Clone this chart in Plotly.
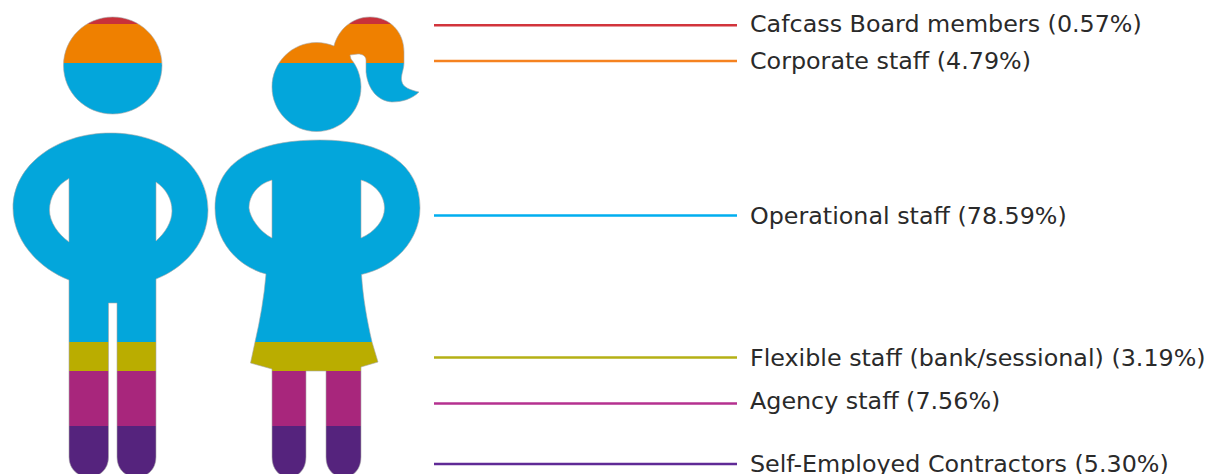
import numpy as np
import plotly.graph_objects as go

categories = [
    "Cafcass Board members",
    "Corporate staff",
    "Operational staff",
    "Flexible staff (bank/sessional)",
    "Agency staff",
    "Self-Employed Contractors",
]
shares = [0.57, 4.79, 78.59, 3.19, 7.56, 5.30]
# height of each colour band on the figures, as drawn (not to scale with the shares)
band_heights = [7, 39, 279, 29, 55, 54]

band_colors = ["#c8313a", "#ef8000", "#03a6db", "#baad00", "#a8267c", "#55237d"]
line_colors = ["#d2343c", "#f58220", "#00aeef", "#b5b015", "#b5308f", "#5f2a96"]
line_y = [25.3, 61, 215.5, 357.5, 403.5, 464]
label_y = [24, 60.5, 216, 357.5, 401, 464]

HEAD_TOP = 17

# outlines of the two figures, one closed piece per path part
man = (
    # head
    "M 63.5 65.5 C 63.5 38.5 85.5 17 112.7 17 C 140 17 162 38.5 162 65.5 "
    "C 162 92.5 140 114 112.7 114 C 85.5 114 63.5 92.5 63.5 65.5 Z "
    # body and legs
    "M 69 280 C 38 268 13 240 13 208 C 13 165 57 133 110.5 133 C 165 133 208 165 208 210 "
    "C 208 243 184 268 156 279 L 156 457 C 156 470 147 477 136.5 477 C 126 477 117 470 117 457 "
    "L 117 303 L 108.5 303 L 108.5 457 C 108.5 470 99 477 89 477 C 79 477 69 470 69 457 Z "
    # gaps under the arms
    "M 69 178.5 C 57 185 49.5 197 49.5 210 C 49.5 222 58 234 69 242 Z "
    "M 156 182 C 166 189 172 199 172 211 C 172 222 165 233 156 241 Z "
)
woman = (
    # head and ponytail
    "M 334 46 C 338 30 352 17 370 17 C 390 17 404 32 404 52 L 404 63 C 404 70 400 76 402 82 "
    "C 403 87 410 90 419 92 C 412 99 402 102 392 102 C 378 101 368 90 366 72 L 366 60 "
    "C 366 56 362 54 358 54 L 350 55 L 351 59 C 357 66 361 76 361 87 "
    "C 361 111.5 341 131.5 316.5 131.5 C 292 131.5 272 111.5 272 87 "
    "C 272 62.5 292 42.5 316.5 42.5 C 323 42.5 329 44 334 46 Z "
    # body, skirt and legs
    "M 266 274 C 236 266 215 240 215 208 C 215 165 250 140 320 140 C 385 140 420 165 420 208 "
    "C 420 240 395 267 361.5 274.5 C 363 298 367 320 372 342 L 378 362 L 361 367 L 361 457 "
    "C 361 470 353 477 343.5 477 C 334 477 326 470 326 457 L 326 371 L 306 371 L 306 457 "
    "C 306 470 298 477 289 477 C 280 477 272 470 272 457 L 272 369 L 250.5 363 L 255 342 "
    "C 260 320 264 298 266 274 Z "
    # gaps under the arms
    "M 272 180 C 258 184 249 195 249 208 C 250 218 260 232 272 238 Z "
    "M 361 180 C 375 184 384.5 195 384.5 208 C 384.5 220 375 232 361 238 Z "
)
outlines = man + woman
frame = "M -5 -5 L 428 -5 L 428 480 L -5 480 Z "

fig = go.Figure()

# colour bands, cut to the figures by the white mask further down
bases = HEAD_TOP + np.concatenate([[0], np.cumsum(band_heights)[:-1]])
for name, height, base, color in zip(categories, band_heights, bases, band_colors):
    fig.add_trace(go.Bar(
        x=[111, 317],
        y=[height, height],
        base=[base, base],
        width=[200, 208],
        marker=dict(color=color, line=dict(width=0)),
        name=name,
        showlegend=False,
    ))

# leader lines
for name, y, color in zip(categories, line_y, line_colors):
    fig.add_trace(go.Scatter(
        x=[434, 737],
        y=[y, y],
        mode="lines",
        line=dict(color=color, width=2.4),
        name=name,
        showlegend=False,
    ))

for name, share, y in zip(categories, shares, label_y):
    fig.add_annotation(
        x=750,
        y=y,
        text=f"{name} ({share:.2f}%)",
        showarrow=False,
        xanchor="left",
        yanchor="middle",
        xshift=-2,
        font=dict(family="DejaVu Sans", size=23.8, color="#2a2a2a"),
    )

fig.update_layout(
    width=1208,
    height=474,
    margin=dict(l=0, r=0, t=0, b=0),
    paper_bgcolor="white",
    plot_bgcolor="white",
    barmode="overlay",
    bargap=0,
    xaxis=dict(range=[0, 1208], visible=False, fixedrange=True),
    yaxis=dict(range=[474, 0], visible=False, fixedrange=True),
    shapes=[
        dict(type="path", path=frame + outlines, xref="x", yref="y", fillcolor="white",
             fillrule="evenodd", line=dict(width=0), layer="above"),
        dict(type="path", path=outlines, xref="x", yref="y", fillcolor="rgba(0,0,0,0)",
             line=dict(color="#a8a8a8", width=0.6), layer="above"),
    ],
)

fig.write_html("out.html", config={"displayModeBar": False},
               post_script="document.body.style.margin='0';")
